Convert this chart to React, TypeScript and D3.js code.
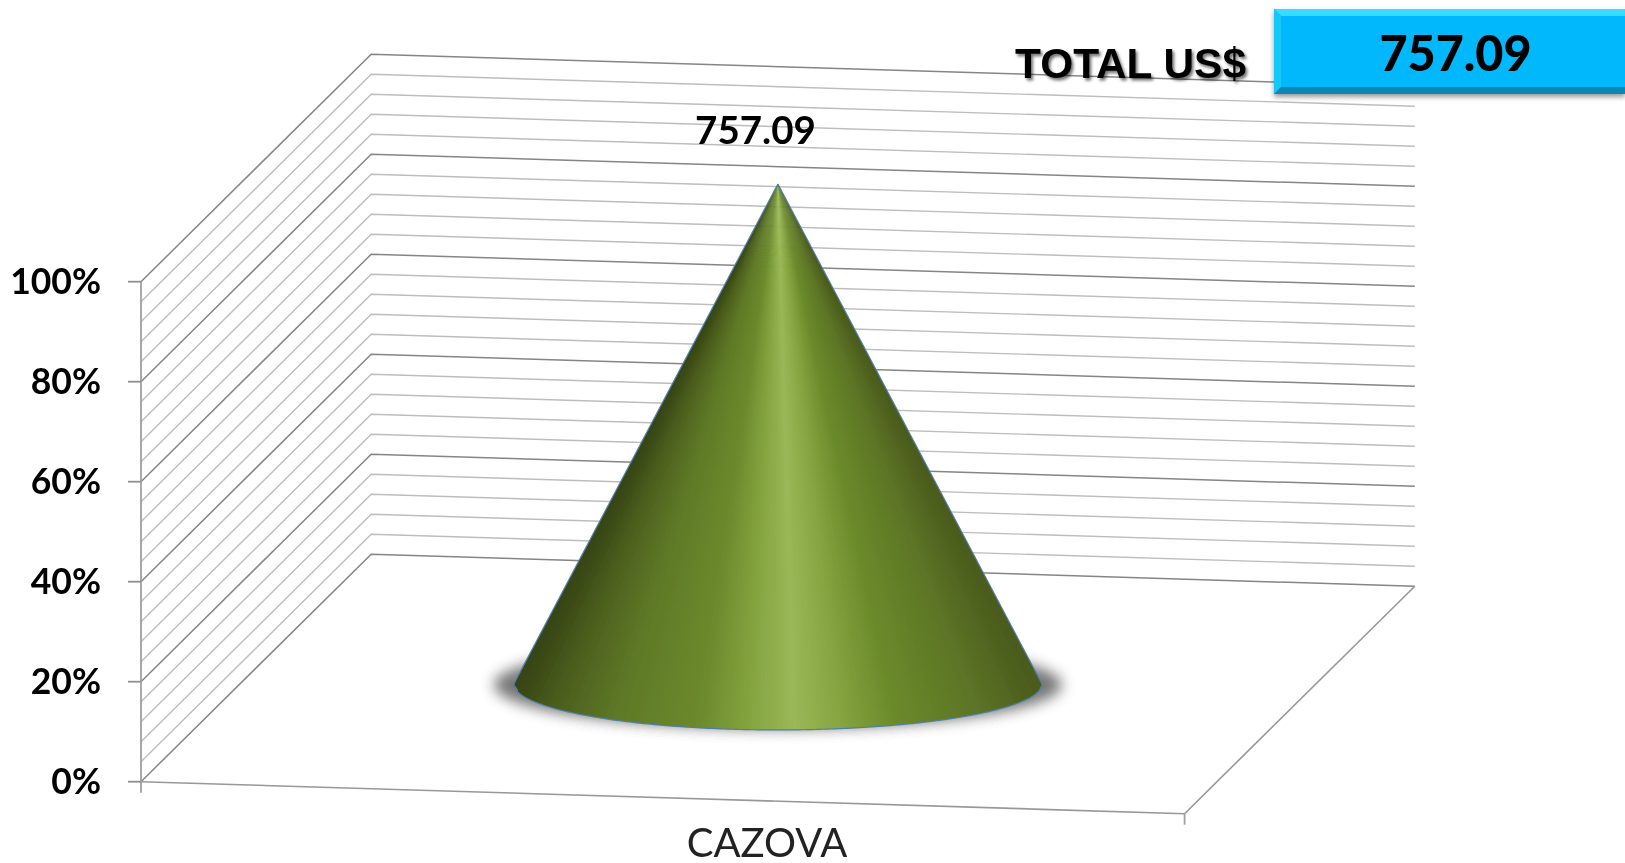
import * as d3 from 'd3';
import React from 'react';

const categories = ['CAZOVA'];
const values = [757.09];
const axisLabels = ['0%', '20%', '40%', '60%', '80%', '100%'];
const majorTicks = [0, 0.2, 0.4, 0.6, 0.8, 1];
const totalLabel = 'TOTAL US$';
const totalValue = '757.09';

// cone shading, left to right across the base
const shadeStops = [0, 0.08, 0.2, 0.35, 0.43, 0.53, 0.63, 0.72, 0.88, 1];
const shadeColors = ['#364415', '#4c5f1d', '#5f7a27', '#6c8a2d', '#80a03c', '#9ab856', '#84a23e', '#6b8b2b', '#5c7426', '#4a5a1c'];

const WIDTH = 1625;
const HEIGHT = 863;
const FONT = 'Lato, sans-serif';
const GRID_STEP = 0.04;
const WEDGES = 140;

export default function App() {
  // the 3d box: front-left corner, width vector, depth vector, height
  const x = d3.scaleLinear().domain([0, 1]).range([141, 1184.6]);
  const slope = d3.scaleLinear().domain([0, 1]).range([0, 32]);
  const depthX = d3.scaleLinear().domain([0, 1]).range([0, 230.2]);
  const depthY = d3.scaleLinear().domain([0, 1]).range([0, 227.5]);
  const y = d3.scaleLinear().domain([0, 1]).range([781.7, 281.7]);

  function project(px: number, depth: number, share: number): [number, number] {
    return [x(px) + depthX(depth), y(share) + slope(px) - depthY(depth)];
  }

  const band = d3.scaleBand().domain(categories).range([0, 1]).padding(0.328);
  const total = d3.sum(values);
  const line = d3.line();
  const gridTicks = d3.range(0, 1 + GRID_STEP / 2, GRID_STEP);

  const isMajor = (t: number) => majorTicks.some((m) => Math.abs(m - t) < 1e-6);

  // cone geometry
  const center = band(categories[0])! + band.bandwidth() / 2;
  const [cx, cy] = project(center, 0.5, 0);
  const apex = project(center, 0.5, values[0] / total);
  const rx = (x(band.bandwidth()) - x(0)) / 2;
  const ry = 46;
  const shade = d3.scaleLinear<string>().domain(shadeStops).range(shadeColors);

  const basePoint = (t: number): [number, number] => {
    // t runs 0..1 from the left edge to the right edge along the front arc
    const px = cx - rx + 2 * rx * Math.min(t, 1);
    const dx = (px - cx) / rx;
    return [px, cy + ry * Math.sqrt(Math.max(0, 1 - dx * dx))];
  };
  const steps = d3.range(0, WEDGES);
  const outline = line([apex, ...d3.range(0, 201).map((i) => {
    const a = Math.PI - (i / 200) * Math.PI;
    return [cx + rx * Math.cos(a), cy + ry * Math.sin(a)] as [number, number];
  }), apex])!;

  const floor = [project(0, 0, 0), project(1, 0, 0), project(1, 1, 0), project(0, 1, 0)] as [number, number][];
  const boxX = 1274;
  const boxY = 9;
  const boxW = 351;
  const boxH = 85;
  const bevel = 7;

  return (
    <svg width={WIDTH} height={HEIGHT} style={{position: 'absolute', left: 0, top: 0, background: '#fff'}}>
      <defs>
        <filter id="soft" x="-20%" y="-40%" width="140%" height="180%">
          <feGaussianBlur stdDeviation="7" />
        </filter>
        <filter id="page" filterUnits="userSpaceOnUse" x="0" y="0" width={WIDTH} height={HEIGHT}>
          <feGaussianBlur stdDeviation="0.45" />
        </filter>
        <filter id="textShadow" x="-5%" y="-20%" width="110%" height="150%">
          <feDropShadow dx="2" dy="2.5" stdDeviation="1.5" floodColor="#000" floodOpacity="0.55" />
        </filter>
        <filter id="boxShadow" x="-5%" y="-20%" width="110%" height="150%">
          <feDropShadow dx="0" dy="3" stdDeviation="2.5" floodColor="#000" floodOpacity="0.4" />
        </filter>
        <clipPath id="coneClip">
          <path d={outline} />
        </clipPath>
      </defs>

      <g filter="url(#page)">
        {/* walls */}
        {gridTicks.map((t) => {
          const major = isMajor(t);
          return (
            <path
              key={t}
              d={line([project(0, 0, t), project(0, 1, t), project(1, 1, t)])!}
              fill="none"
              stroke={major ? '#858585' : '#bdbdbd'}
              strokeWidth={major ? 1.5 : 1.4}
            />
          );
        })}

        {/* floor */}
        <path d={line([floor[0], floor[1], floor[2]])!} fill="none" stroke="#989898" strokeWidth={1.6} />

        {/* axis */}
        <line x1={x(0)} x2={x(0)} y1={y(1)} y2={y(0) + 11} stroke="#a0a0a0" strokeWidth={1.8} />
        <line x1={floor[1][0]} x2={floor[1][0]} y1={floor[1][1]} y2={floor[1][1] + 11} stroke="#a0a0a0" strokeWidth={1.8} />
        {majorTicks.map((t, i) => (
          <g key={t}>
            <line x1={x(0) - 13} x2={x(0)} y1={y(t)} y2={y(t)} stroke="#909090" strokeWidth={1.8} />
            <text x={101} y={y(t) + 12} textAnchor="end" fontFamily={FONT} fontWeight="700" fontSize={35.5} fill="#000">
              {axisLabels[i]}
            </text>
          </g>
        ))}
        <text x={767} y={857} textAnchor="middle" fontFamily={FONT} fontSize={40} fill="#222">{categories[0]}</text>

        {/* cone */}
        <ellipse cx={cx} cy={cy + 1} rx={rx + 20} ry={ry - 2} fill="#555" opacity={0.8} filter="url(#soft)" />
        <g clipPath="url(#coneClip)">
          {steps.map((i) => {
            // each wedge runs under the next one so no seams show between them
            const a = basePoint(i / WEDGES);
            const b = basePoint((i + 2) / WEDGES);
            return <path key={i} d={line([apex, a, b])! + 'Z'} fill={shade((i + 0.5) / WEDGES)} />;
          })}
        </g>
        <path d={outline} fill="none" stroke="#4f7fa8" strokeWidth={1.2} />
        <text x={755.5} y={144} textAnchor="middle" fontFamily={FONT} fontWeight="700" fontSize={38.5} fill="#000">
          {d3.format('.2f')(values[0])}
        </text>

        {/* total box */}
        <text
          x={1015}
          y={78}
          fontFamily="'Liberation Sans', Arial, sans-serif"
          fontWeight="700"
          fontSize={43}
          textLength={231}
          lengthAdjust="spacingAndGlyphs"
          fill="#000"
          filter="url(#textShadow)"
        >
          {totalLabel}
        </text>
        <g filter="url(#boxShadow)">
          <rect x={boxX} y={boxY} width={boxW} height={boxH} fill="#00b8fb" />
        </g>
        <path d={`M${boxX},${boxY}H${boxX + boxW}V${boxY + bevel}H${boxX + bevel}Z`} fill="#35dcff" />
        <path d={`M${boxX},${boxY}L${boxX + bevel},${boxY + bevel}V${boxY + boxH - bevel}L${boxX},${boxY + boxH}Z`} fill="#12c8f6" />
        <path d={`M${boxX},${boxY + boxH}L${boxX + bevel},${boxY + boxH - bevel}H${boxX + boxW}V${boxY + boxH}Z`} fill="#0a86b5" />
        <text x={1455.5} y={71} textAnchor="middle" fontFamily={FONT} fontWeight="900" fontSize={48.5} fill="#000">
          {totalValue}
        </text>
      </g>
    </svg>
  );
}
